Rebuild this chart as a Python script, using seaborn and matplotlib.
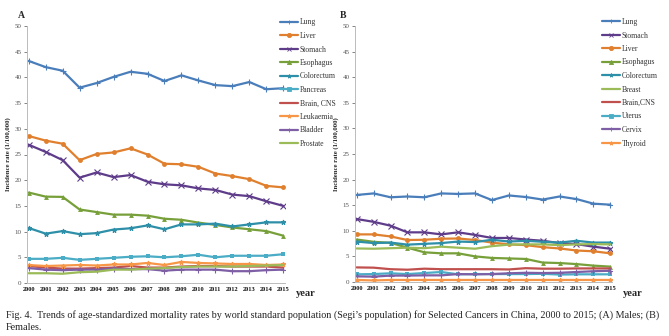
import numpy as np
import pandas as pd
import matplotlib
matplotlib.use("Agg")
import matplotlib.pyplot as plt
import seaborn as sns

sns.set_theme(style="white")
plt.rcParams['font.family'] = ['Liberation Serif', 'DejaVu Serif']

years = list(range(2000, 2016))

# Panel A - Males
male_names = ["Lung", "Liver", "Stomach", "Esophagus", "Colorectum", "Pancreas",
              "Brain, CNS", "Leukaemia", "Bladder", "Prostate"]
m_lung = [43.2, 42.0, 41.3, 38.0, 38.9, 40.1, 41.1, 40.7, 39.3, 40.4, 39.4, 38.5, 38.3, 39.1, 37.7, 37.9]
m_liver = [28.6, 27.7, 27.1, 23.9, 25.1, 25.4, 26.2, 25.0, 23.2, 23.1, 22.6, 21.3, 20.8, 20.2, 18.9, 18.6]
m_stomach = [26.9, 25.5, 23.9, 20.5, 21.5, 20.6, 21.0, 19.7, 19.2, 19.0, 18.4, 18.1, 17.2, 16.9, 15.9, 15.0]
m_esophagus = [17.6, 16.8, 16.75, 14.3, 13.8, 13.3, 13.3, 13.1, 12.5, 12.3, 11.75, 11.3, 10.8, 10.45, 10.1, 9.2]
m_colorectum = [10.7, 9.6, 10.1, 9.5, 9.7, 10.4, 10.65, 11.2, 10.45, 11.4, 11.4, 11.55, 11.0, 11.4, 11.8, 11.8]
m_pancreas = [4.7, 4.7, 4.9, 4.5, 4.7, 4.9, 5.1, 5.2, 5.0, 5.2, 5.5, 5.0, 5.3, 5.3, 5.3, 5.6]
m_brain = [3.3, 3.0, 2.8, 2.8, 2.9, 3.0, 3.3, 3.0, 3.0, 3.2, 3.3, 3.3, 3.2, 3.2, 3.2, 3.0]
m_leukaemia = [3.5, 3.3, 3.4, 3.5, 3.4, 3.6, 3.6, 3.9, 3.5, 4.1, 3.9, 3.8, 3.7, 3.7, 3.5, 3.6]
m_bladder = [2.9, 2.6, 2.5, 2.6, 2.6, 2.8, 2.7, 2.7, 2.4, 2.6, 2.6, 2.6, 2.3, 2.3, 2.5, 2.6]
m_prostate = [1.9, 1.9, 1.8, 2.1, 2.2, 2.6, 2.6, 2.8, 2.9, 3.1, 3.2, 3.2, 3.2, 3.3, 3.4, 3.5]
male_vals = [m_lung, m_liver, m_stomach, m_esophagus, m_colorectum, m_pancreas,
             m_brain, m_leukaemia, m_bladder, m_prostate]

# Panel B - Females
female_names = ["Lung", "Stomach", "Liver", "Esophagus", "Colorectum", "Breast",
                "Brain,CNS", "Uterus", "Cervix", "Thyroid"]
f_lung = [17.0, 17.3, 16.55, 16.7, 16.55, 17.3, 17.2, 17.3, 16.0, 16.9, 16.6, 16.1, 16.7, 16.2, 15.3, 15.1]
f_stomach = [12.3, 11.75, 11.0, 9.7, 9.7, 9.3, 9.7, 9.2, 8.6, 8.6, 8.3, 8.05, 7.6, 7.4, 6.9, 6.5]
f_liver = [9.3, 9.3, 8.9, 8.2, 8.25, 8.45, 8.5, 8.2, 7.7, 7.35, 7.2, 6.8, 6.55, 6.15, 6.0, 5.6]
f_esophagus = [8.3, 7.85, 7.65, 6.7, 5.8, 5.6, 5.6, 5.0, 4.7, 4.6, 4.5, 3.8, 3.7, 3.5, 3.2, 3.0]
f_colorectum = [7.9, 7.6, 7.7, 7.3, 7.45, 7.6, 7.9, 7.8, 8.25, 7.9, 8.05, 7.85, 7.7, 8.05, 7.7, 7.7]
f_breast = [6.55, 6.5, 6.6, 6.7, 6.6, 6.9, 6.7, 6.5, 7.0, 7.3, 7.35, 7.35, 7.2, 7.35, 7.4, 7.35]
f_brain = [2.85, 2.8, 2.5, 2.4, 2.6, 2.5, 2.5, 2.5, 2.5, 2.45, 2.7, 2.6, 2.6, 2.65, 2.65, 2.65]
f_uterus = [1.5, 1.55, 1.7, 1.55, 1.75, 1.95, 1.5, 1.55, 1.55, 1.55, 1.55, 1.6, 1.45, 1.5, 1.5, 1.5]
f_cervix = [1.1, 1.05, 1.25, 1.25, 1.3, 1.3, 1.55, 1.5, 1.55, 1.7, 1.8, 1.75, 1.8, 1.95, 2.1, 2.2]
f_thyroid = [0.4, 0.3, 0.4, 0.4, 0.4, 0.4, 0.4, 0.4, 0.4, 0.4, 0.4, 0.4, 0.4, 0.4, 0.4, 0.4]
female_vals = [f_lung, f_stomach, f_liver, f_esophagus, f_colorectum, f_breast,
               f_brain, f_uterus, f_cervix, f_thyroid]

yticks = [0, 5, 10, 15, 20, 25, 30, 35, 40, 45, 50]

male_style = [("#4A7EBB", "+"), ("#E0802E", "o"), ("#5E3C8A", "x"), ("#77A03A", "^"),
              ("#2E8FA8", "*"), ("#4BACC6", "s"), ("#C0504D", None), ("#F79646", "*"),
              ("#7E5FA6", "+"), ("#9BBB59", None)]
female_style = [("#4A7EBB", "+"), ("#5E3C8A", "x"), ("#E0802E", "o"), ("#77A03A", "^"),
                ("#2E8FA8", "*"), ("#9BBB59", None), ("#C0504D", None), ("#4BACC6", "s"),
                ("#7E5FA6", "+"), ("#F79646", "*")]

W, H = 669, 336
fig = plt.figure(figsize=(W / 100, H / 100), dpi=100)

def px_axes(x0, x1, ytop, ybot):
    return fig.add_axes([x0 / W, 1 - ybot / H, (x1 - x0) / W, (ybot - ytop) / H])

axA = px_axes(27, 285, 26, 283)
axB = px_axes(355, 612, 26, 282)

def draw(ax, names, vals, styles, leg_x, leg_y, ylab_x):
    df = pd.DataFrame({"year": np.tile(years, len(names)),
                       "rate": np.concatenate(vals),
                       "cancer": np.repeat(names, len(years))})
    handles = []
    for name, (col, mk) in zip(names, styles):
        sub = df[df["cancer"] == name]
        sns.lineplot(data=sub, x="year", y="rate", ax=ax, color=col, lw=1.6,
                     marker=mk if mk else None, markersize=3.5 if mk not in ("+", "x") else 4,
                     markeredgewidth=0.8 if mk in ("+", "x", "*") else 0,
                     markeredgecolor=col, markerfacecolor=col, label=name, legend=False)
        handles.append(plt.Line2D([], [], color=col, lw=1.6, marker=mk if mk else None,
                                  markersize=3, markeredgecolor=col, markerfacecolor=col,
                                  markeredgewidth=0.6, label=name))
    ax.set_xlim(1999.9, 2015.1)
    ax.set_ylim(0, 50)
    ax.set_yticks(yticks)
    ax.set_xticks(years)
    ax.set_xticklabels([str(y) for y in years], fontsize=4.6, fontweight="bold")
    ax.tick_params(axis="y", labelsize=5, colors="#555555", length=2, width=0.5, pad=2,
                   left=True)
    ax.tick_params(axis="x", length=0, pad=3, labelcolor="#111111")
    for s in ["top", "right"]:
        ax.spines[s].set_visible(False)
    for s in ["left", "bottom"]:
        ax.spines[s].set_color("#BBBBBB")
        ax.spines[s].set_linewidth(0.7)
    ax.set_xlabel("")
    ax.set_ylabel("")
    fig.text(ylab_x / W, 1 - 154 / H, "Incidence rate (1/100,000)", rotation=90,
             ha="center", va="center", fontsize=4.8, fontweight="bold")
    leg = fig.legend(handles=handles, loc="upper left",
                     bbox_to_anchor=(leg_x / W, 1 - leg_y / H),
                     bbox_transform=fig.transFigure, frameon=False,
                     fontsize=5.5, handlelength=2.4, handletextpad=0.2,
                     labelspacing=0.72, borderaxespad=0, borderpad=0)
    for t in leg.get_texts():
        t.set_color("#333333")
    return leg

draw(axA, male_names, male_vals, male_style, 280, 18.5, 8)
draw(axB, female_names, female_vals, female_style, 602, 18, 336)

fig.text(18 / W, 1 - 15 / H, "A", fontsize=7, fontweight="bold", ha="left", va="center")
fig.text(340 / W, 1 - 16 / H, "B", fontsize=7, fontweight="bold", ha="left", va="center")
fig.text(296 / W, 1 - 293 / H, "year", fontsize=7.5, fontweight="bold", ha="left", va="center")
fig.text(623 / W, 1 - 293 / H, "year", fontsize=7.5, fontweight="bold", ha="left", va="center")

fig.text(6 / W, 1 - 315 / H,
         "Fig. 4.  Trends of age-standardized mortality rates by world standard population "
         "(Segi\u2019s population) for Selected Cancers in China, 2000 to 2015; (A) Males; (B)",
         fontsize=7.25, ha="left", va="center", color="#222222")
fig.text(6 / W, 1 - 328 / H, "Females.", fontsize=7.25, ha="left", va="center", color="#222222")

fig.savefig("out.png", dpi=100, facecolor="white")
